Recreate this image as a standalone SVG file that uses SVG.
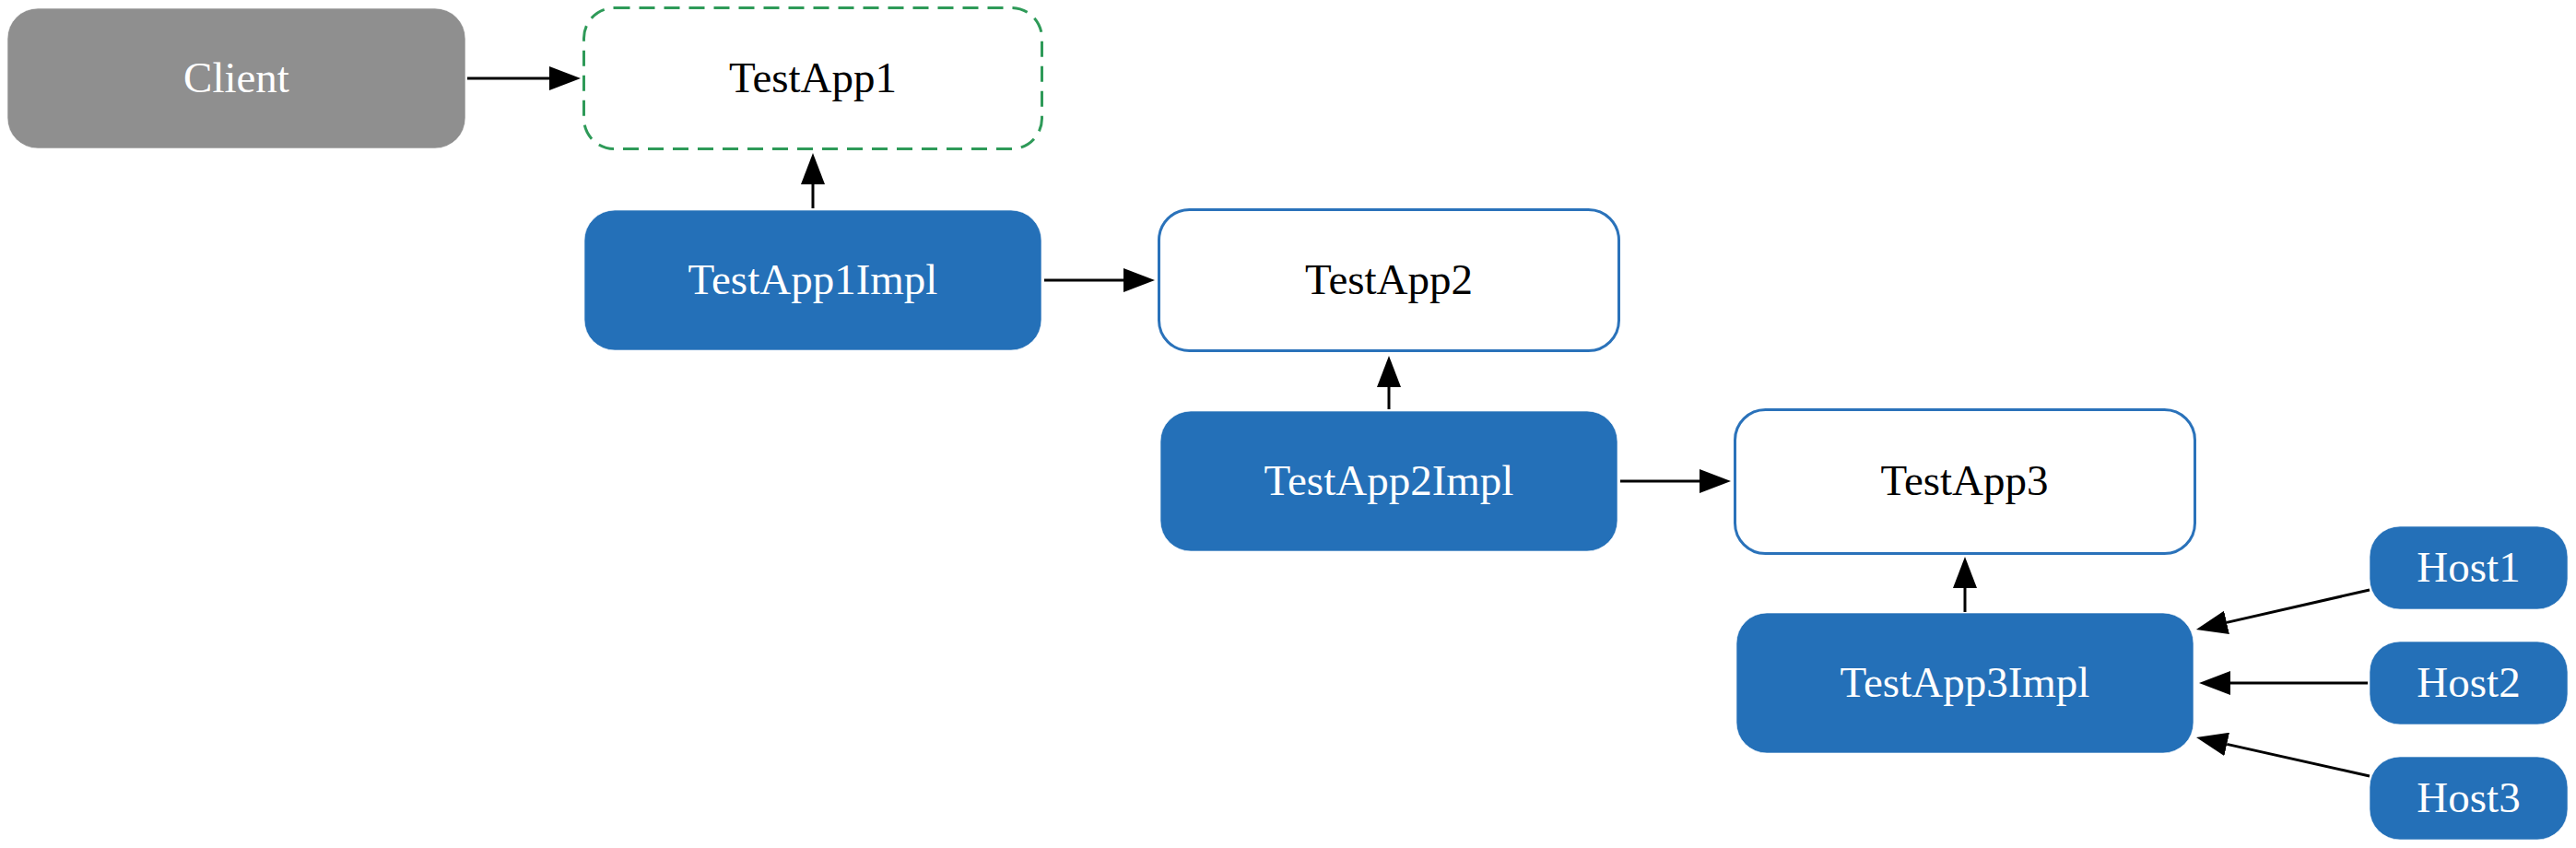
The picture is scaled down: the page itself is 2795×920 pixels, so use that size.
<svg xmlns="http://www.w3.org/2000/svg" width="2795" height="920" viewBox="0 0 2795 920">
  <style>
    .lbl { font-family: "Liberation Serif", "Times New Roman", serif; font-size: 47px; text-anchor: middle; }
    .light { fill: #ffffff; }
    .dark { fill: #000000; }
    .filled { fill: #2470b8; stroke: #ffffff; stroke-opacity: 0.6; stroke-width: 1; }
    .gray { fill: #8f8f8f; stroke: #ffffff; stroke-opacity: 0.6; stroke-width: 1; }
    .outline { fill: #ffffff; stroke: #2a72ba; stroke-width: 3; }
    .dashed { fill: #ffffff; stroke: #2e9a58; stroke-width: 3; stroke-dasharray: 17 10; }
    .edge { fill: none; stroke: #000000; stroke-width: 3; marker-end: url(#arrow); }
  </style>
  <defs>
    <marker id="arrow" markerUnits="userSpaceOnUse" viewBox="0 0 34 26" markerWidth="34" markerHeight="26" refX="0" refY="13" orient="auto">
      <path d="M0,0 L34,13 L0,26 z" fill="#000000"/>
    </marker>
  </defs>
  <rect width="2795" height="920" fill="#ffffff"/>

  <g id="edges">
    <path class="edge" d="M507,85 L596,85"/>
    <path class="edge" d="M882,226 L882,200"/>
    <path class="edge" d="M1133,304 L1219,304"/>
    <path class="edge" d="M1507,444 L1507,420"/>
    <path class="edge" d="M1758,522 L1844,522"/>
    <path class="edge" d="M2132,664 L2132,638"/>
    <path class="edge" d="M2571,640 L2416,675.4"/>
    <path class="edge" d="M2569,741 L2420,741"/>
    <path class="edge" d="M2571,842 L2416.2,807.4"/>
  </g>

  <g id="Client">
    <rect class="gray" x="8" y="9" width="497" height="152" rx="33" ry="33"/>
    <text class="lbl light" x="256.5" y="100">Client</text>
  </g>
  <g id="TestApp1">
    <rect class="dashed" x="633.5" y="8.5" width="497" height="153" rx="33" ry="33"/>
    <text class="lbl dark" x="882" y="100">TestApp1</text>
  </g>
  <g id="TestApp1Impl">
    <rect class="filled" x="634" y="228" width="496" height="152" rx="33" ry="33"/>
    <text class="lbl light" x="882" y="319">TestApp1Impl</text>
  </g>
  <g id="TestApp2">
    <rect class="outline" x="1257.5" y="227.5" width="499" height="153" rx="33" ry="33"/>
    <text class="lbl dark" x="1507" y="319">TestApp2</text>
  </g>
  <g id="TestApp2Impl">
    <rect class="filled" x="1259" y="446" width="496" height="152" rx="33" ry="33"/>
    <text class="lbl light" x="1507" y="537">TestApp2Impl</text>
  </g>
  <g id="TestApp3">
    <rect class="outline" x="1882.5" y="444.5" width="499" height="156" rx="33" ry="33"/>
    <text class="lbl dark" x="2131.5" y="537">TestApp3</text>
  </g>
  <g id="TestApp3Impl">
    <rect class="filled" x="1884" y="665" width="496" height="152" rx="33" ry="33"/>
    <text class="lbl light" x="2132" y="756">TestApp3Impl</text>
  </g>
  <g id="Host1">
    <rect class="filled" x="2571" y="571" width="215" height="90" rx="33" ry="33"/>
    <text class="lbl light" x="2678.5" y="631">Host1</text>
  </g>
  <g id="Host2">
    <rect class="filled" x="2571" y="696" width="215" height="90" rx="33" ry="33"/>
    <text class="lbl light" x="2678.5" y="756">Host2</text>
  </g>
  <g id="Host3">
    <rect class="filled" x="2571" y="821" width="215" height="90" rx="33" ry="33"/>
    <text class="lbl light" x="2678.5" y="881">Host3</text>
  </g>
</svg>
